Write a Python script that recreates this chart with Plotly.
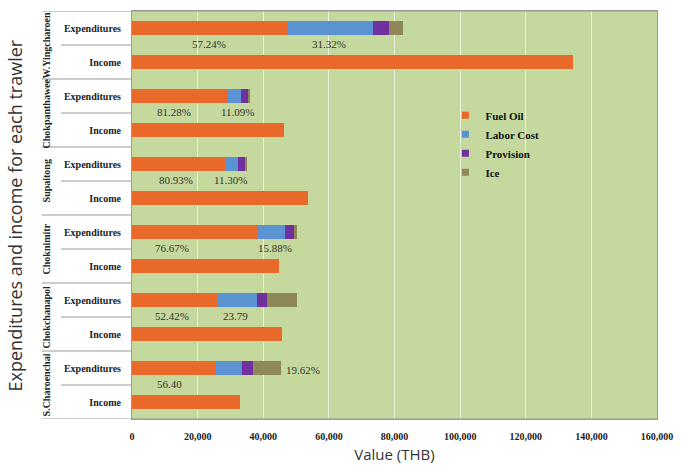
import plotly.graph_objects as go

# ---------------- data ----------------
trawlers = ["W.Yingcharoen", "Chokpanthawee", "Supaitong", "Choknimitr", "Chokchanapol", "S.Charoenchai"]
fuel_oil = [47300, 29260, 28460, 38550, 26270, 25570]
labor_cost = [26000, 3990, 3970, 7980, 11950, 7990]
provision = [5100, 2150, 2200, 2900, 2900, 3290]
ice = [4200, 550, 550, 850, 9100, 8690]
income = [134500, 46240, 53540, 44850, 45740, 32850]
fuel_pct_labels = ["57.24%", "81.28%", "80.93%", "76.67%", "52.42%", "56.40"]
second_pct_labels = ["31.32%", "11.09%", "11.30%", "15.88%", "23.79", "19.62%"]
row_names = ["Expenditures", "Income"]
x_ticks = [0, 20000, 40000, 60000, 80000, 100000, 120000, 140000, 160000]

# ---------------- layout helpers (positions/styles) ----------------
fuel_label_x = [23400, 12900, 13500, 12300, 12300, 11400]
second_label_x = [60000, 32400, 30300, 43500, 31500, 52100]
second_label_dy = [0.47, 0.47, 0.47, 0.47, 0.47, 0.05]
fuel_label_dy = [0.47, 0.47, 0.47, 0.47, 0.47, 0.47]

exp_cats = [t + "|" + row_names[0] for t in trawlers]
inc_cats = [t + "|" + row_names[1] for t in trawlers]
all_cats = []
for e, i in zip(exp_cats, inc_cats):
    all_cats += [e, i]

C_FUEL = "#E8692A"
C_LABOR = "#5B93D2"
C_PROV = "#7030A0"
C_ICE = "#8E8758"
BG = "#C5D89D"
SERIF = "Liberation Serif, Times New Roman, serif"
SANS = "Open Sans, Noto Sans, sans-serif"

fig = go.Figure()
bar_w = 0.4
for name, vals, col in [("Fuel Oil", fuel_oil, C_FUEL), ("Labor Cost", labor_cost, C_LABOR),
                        ("Provision", provision, C_PROV), ("Ice", ice, C_ICE)]:
    fig.add_trace(go.Bar(y=exp_cats, x=vals, orientation="h", name=name,
                         marker=dict(color=col, line=dict(width=0)), width=bar_w,
                         showlegend=False))
fig.add_trace(go.Bar(y=inc_cats, x=income, orientation="h", name="Income",
                     marker=dict(color=C_FUEL, line=dict(width=0)), width=bar_w,
                     showlegend=False))
# legend entries with small square symbols
for name, col in [("Fuel Oil", C_FUEL), ("Labor Cost", C_LABOR), ("Provision", C_PROV), ("Ice", C_ICE)]:
    fig.add_trace(go.Scatter(x=[None], y=[None], mode="markers", name=name,
                             marker=dict(symbol="square", size=7, color=col),
                             showlegend=True))

annotations = []
for g, t in enumerate(trawlers):
    base = 2 * g
    annotations.append(dict(x=fuel_label_x[g], y=base + fuel_label_dy[g], xref="x", yref="y",
                            text=fuel_pct_labels[g], showarrow=False,
                            font=dict(family=SERIF, size=11, color="#333333")))
    annotations.append(dict(x=second_label_x[g], y=base + second_label_dy[g], xref="x", yref="y",
                            text=second_pct_labels[g], showarrow=False,
                            font=dict(family=SERIF, size=11, color="#333333")))
    # group label (rotated)
    annotations.append(dict(x=-0.163, y=base + 0.5, xref="paper", yref="y",
                            xanchor="center", yanchor="middle",
                            text=t, textangle=-90, showarrow=False,
                            font=dict(family=SERIF, size=10, color="#222222", weight="bold")))

annotations.append(dict(x=-0.222, y=0.5, xref="paper", yref="paper",
                        xanchor="center", yanchor="middle",
                        text="Expenditures and income for each trawler", textangle=-90,
                        showarrow=False, font=dict(family=SANS, size=18, color="#333333")))

shapes = []
line_col = "#9A9A9A"
for g in range(len(trawlers) + 1):
    yb = 2 * g - 0.5
    x1 = 1 if g in (0, len(trawlers)) else 0
    shapes.append(dict(type="line", xref="paper", yref="y", x0=-0.172, x1=x1, y0=yb, y1=yb,
                       line=dict(color=line_col, width=1.2)))
for g in range(len(trawlers)):
    yb = 2 * g + 0.5
    shapes.append(dict(type="line", xref="paper", yref="y", x0=-0.135, x1=0, y0=yb, y1=yb,
                       line=dict(color=line_col, width=1)))

fig.update_layout(
    barmode="stack",
    width=683, height=471,
    margin=dict(l=132, r=17, t=10, b=51),
    paper_bgcolor="white",
    plot_bgcolor=BG,
    bargap=0.6,
    annotations=annotations,
    shapes=shapes,
    legend=dict(x=0.597, y=0.78, xanchor="left", yanchor="top", traceorder="normal",
                bgcolor="rgba(0,0,0,0)", itemwidth=30, tracegroupgap=0,
                font=dict(family=SERIF, size=11, color="#111111", weight="bold")),
    xaxis=dict(range=[0, 160000], tickvals=x_ticks,
               ticktext=[f"{v:,}" for v in x_ticks],
               showgrid=True, gridcolor="#E9F0DC", gridwidth=1,
               zeroline=False, showline=True, linecolor=line_col, mirror=True,
               ticks="", ticklabelstandoff=8,
               tickfont=dict(family=SERIF, size=10, color="#222222", weight="bold"),
               title=dict(text="Value (THB)", font=dict(family=SANS, size=15, color="#333333"),
                          standoff=8)),
    yaxis=dict(type="category", categoryorder="array", categoryarray=all_cats,
               range=[len(all_cats) - 0.5, -0.5],
               tickvals=all_cats,
               ticktext=[c.split("|")[1] for c in all_cats],
               showgrid=False, zeroline=False, showline=True, linecolor=line_col, mirror=True,
               ticks="", ticklabelstandoff=8,
               tickfont=dict(family=SERIF, size=10, color="#222222", weight="bold")),
)

fig.write_html("out.html")
